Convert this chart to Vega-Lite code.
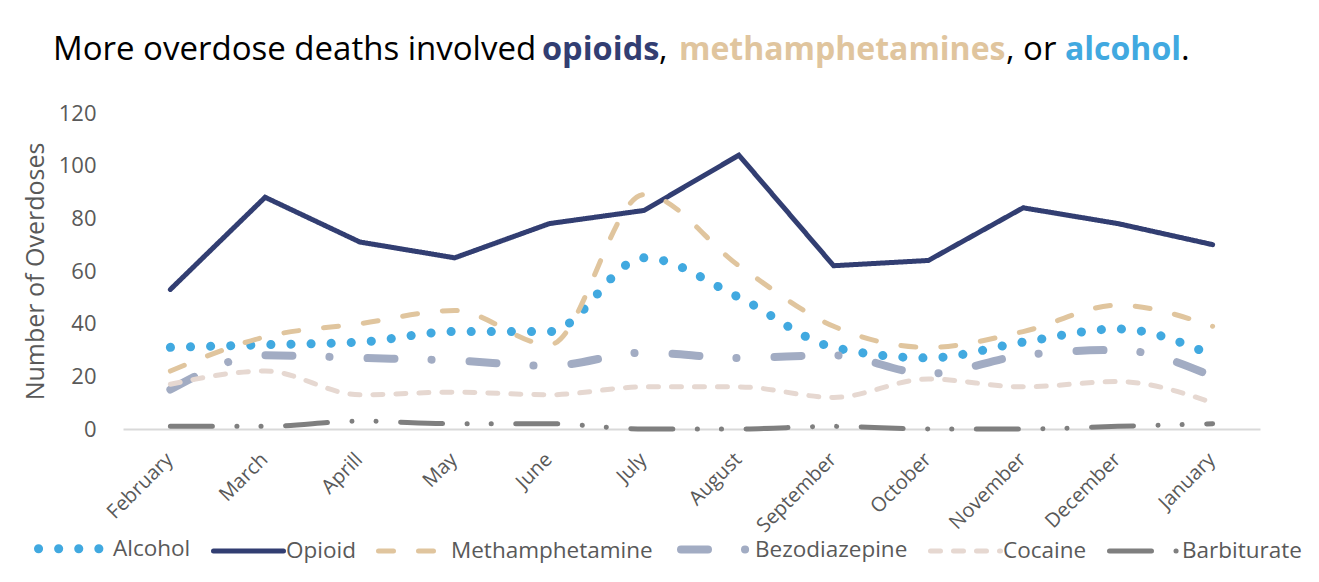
{
  "$schema": "https://vega.github.io/schema/vega-lite/v6.json",
  "width": 1137,
  "height": 316,
  "autosize": {"type": "none"},
  "padding": {"left": 123, "top": 113, "right": 59, "bottom": 153},
  "background": "white",
  "config": {
    "view": {"stroke": null},
    "font": "Open Sans"
  },
  "data": {
    "values": [
      {"month": "February", "drug": "Alcohol", "value": 31},
      {"month": "March", "drug": "Alcohol", "value": 32},
      {"month": "Aprill", "drug": "Alcohol", "value": 33},
      {"month": "May", "drug": "Alcohol", "value": 37},
      {"month": "June", "drug": "Alcohol", "value": 37},
      {"month": "July", "drug": "Alcohol", "value": 65},
      {"month": "August", "drug": "Alcohol", "value": 50},
      {"month": "September", "drug": "Alcohol", "value": 31},
      {"month": "October", "drug": "Alcohol", "value": 27},
      {"month": "November", "drug": "Alcohol", "value": 33},
      {"month": "December", "drug": "Alcohol", "value": 38},
      {"month": "January", "drug": "Alcohol", "value": 28},
      {"month": "February", "drug": "Opioid", "value": 53},
      {"month": "March", "drug": "Opioid", "value": 88},
      {"month": "Aprill", "drug": "Opioid", "value": 71},
      {"month": "May", "drug": "Opioid", "value": 65},
      {"month": "June", "drug": "Opioid", "value": 78},
      {"month": "July", "drug": "Opioid", "value": 83},
      {"month": "August", "drug": "Opioid", "value": 104},
      {"month": "September", "drug": "Opioid", "value": 62},
      {"month": "October", "drug": "Opioid", "value": 64},
      {"month": "November", "drug": "Opioid", "value": 84},
      {"month": "December", "drug": "Opioid", "value": 78},
      {"month": "January", "drug": "Opioid", "value": 70},
      {"month": "February", "drug": "Methamphetamine", "value": 22},
      {"month": "March", "drug": "Methamphetamine", "value": 35},
      {"month": "Aprill", "drug": "Methamphetamine", "value": 40},
      {"month": "May", "drug": "Methamphetamine", "value": 45},
      {"month": "June", "drug": "Methamphetamine", "value": 32},
      {"month": "July", "drug": "Methamphetamine", "value": 89},
      {"month": "August", "drug": "Methamphetamine", "value": 62},
      {"month": "September", "drug": "Methamphetamine", "value": 39},
      {"month": "October", "drug": "Methamphetamine", "value": 31},
      {"month": "November", "drug": "Methamphetamine", "value": 37},
      {"month": "December", "drug": "Methamphetamine", "value": 47},
      {"month": "January", "drug": "Methamphetamine", "value": 39},
      {"month": "February", "drug": "Bezodiazepine", "value": 15},
      {"month": "March", "drug": "Bezodiazepine", "value": 28},
      {"month": "Aprill", "drug": "Bezodiazepine", "value": 27},
      {"month": "May", "drug": "Bezodiazepine", "value": 26},
      {"month": "June", "drug": "Bezodiazepine", "value": 24},
      {"month": "July", "drug": "Bezodiazepine", "value": 29},
      {"month": "August", "drug": "Bezodiazepine", "value": 27},
      {"month": "September", "drug": "Bezodiazepine", "value": 28},
      {"month": "October", "drug": "Bezodiazepine", "value": 21},
      {"month": "November", "drug": "Bezodiazepine", "value": 28},
      {"month": "December", "drug": "Bezodiazepine", "value": 30},
      {"month": "January", "drug": "Bezodiazepine", "value": 20},
      {"month": "February", "drug": "Cocaine", "value": 17},
      {"month": "March", "drug": "Cocaine", "value": 22},
      {"month": "Aprill", "drug": "Cocaine", "value": 13},
      {"month": "May", "drug": "Cocaine", "value": 14},
      {"month": "June", "drug": "Cocaine", "value": 13},
      {"month": "July", "drug": "Cocaine", "value": 16},
      {"month": "August", "drug": "Cocaine", "value": 16},
      {"month": "September", "drug": "Cocaine", "value": 12},
      {"month": "October", "drug": "Cocaine", "value": 19},
      {"month": "November", "drug": "Cocaine", "value": 16},
      {"month": "December", "drug": "Cocaine", "value": 18},
      {"month": "January", "drug": "Cocaine", "value": 10},
      {"month": "February", "drug": "Barbiturate", "value": 1},
      {"month": "March", "drug": "Barbiturate", "value": 1},
      {"month": "Aprill", "drug": "Barbiturate", "value": 3},
      {"month": "May", "drug": "Barbiturate", "value": 2},
      {"month": "June", "drug": "Barbiturate", "value": 2},
      {"month": "July", "drug": "Barbiturate", "value": 0},
      {"month": "August", "drug": "Barbiturate", "value": 0},
      {"month": "September", "drug": "Barbiturate", "value": 1},
      {"month": "October", "drug": "Barbiturate", "value": 0},
      {"month": "November", "drug": "Barbiturate", "value": 0},
      {"month": "December", "drug": "Barbiturate", "value": 1},
      {"month": "January", "drug": "Barbiturate", "value": 2}
    ]
  },
  "layer": [
    {
      "encoding": {
        "x": {
          "field": "month", "type": "ordinal",
          "sort": ["February","March","Aprill","May","June","July","August","September","October","November","December","January"],
          "scale": {"type": "point", "padding": 0.5},
          "axis": {
            "title": null, "labelAngle": -45, "labelFontSize": 20, "labelColor": "#595959",
            "labelFont": "Open Sans", "ticks": false, "domainColor": "#D9D9D9", "domainWidth": 2,
            "labelPadding": 20, "labelOffset": -8, "grid": false
          }
        },
        "y": {
          "field": "value", "type": "quantitative",
          "scale": {"domain": [0, 120], "nice": false},
          "axis": {
            "values": [0, 20, 40, 60, 80, 100, 120], "grid": false, "domain": false, "ticks": false,
            "labelFontSize": 22, "labelColor": "#595959", "labelFont": "Open Sans", "labelPadding": 27,
            "title": "Number of Overdoses", "titleFontSize": 25, "titleFontWeight": "normal",
            "titleColor": "#595959", "titleFont": "Open Sans", "titlePadding": 10
          }
        },
        "color": {
          "field": "drug", "type": "nominal",
          "scale": {
            "domain": ["Alcohol", "Opioid", "Methamphetamine", "Bezodiazepine", "Cocaine", "Barbiturate"],
            "range": ["#41A9E0", "#323E72", "#E0C59E", "#A2ACC3", "#E6D8D1", "#7F7F7F"]
          },
          "legend": {
            "title": null, "orient": "none", "direction": "horizontal", "legendX": -89, "legendY": 396,
            "symbolType": "stroke", "symbolSize": 4900, "labelFontSize": 22.5, "labelColor": "#595959",
            "labelFont": "Open Sans", "labelOffset": 0, "columnPadding": 12, "labelLimit": 0,
            "symbolOpacity": 1, "symbolStrokeWidth": 5,
            "encode": {"symbols": {"update": {
              "strokeCap": {"value": "round"},
              "strokeWidth": {"signal": "datum.value === 'Alcohol' ? 9 : datum.value === 'Bezodiazepine' ? 8 : 5"}
            }}}
          }
        },
        "strokeDash": {
          "field": "drug", "type": "nominal",
          "scale": {
            "domain": ["Alcohol", "Opioid", "Methamphetamine", "Bezodiazepine", "Cocaine", "Barbiturate"],
            "range": [[0.1, 20], [1, 0], [15, 25], [27, 37, 0.1, 38], [10, 13], [42, 24.5, 0.1, 24, 0.1, 24.5]]
          },
          "legend": {
            "title": null, "orient": "none", "direction": "horizontal", "legendX": -89, "legendY": 396,
            "symbolType": "stroke", "symbolSize": 4900, "labelFontSize": 22.5, "labelColor": "#595959",
            "labelFont": "Open Sans", "labelOffset": 0, "columnPadding": 12, "labelLimit": 0,
            "symbolOpacity": 1, "symbolStrokeWidth": 5,
            "encode": {"symbols": {"update": {
              "strokeCap": {"value": "round"},
              "strokeWidth": {"signal": "datum.value === 'Alcohol' ? 9 : datum.value === 'Bezodiazepine' ? 8 : 5"}
            }}}
          }
        },
        "strokeWidth": {
          "field": "drug", "type": "nominal",
          "scale": {
            "type": "ordinal",
            "domain": ["Alcohol", "Opioid", "Methamphetamine", "Bezodiazepine", "Cocaine", "Barbiturate"],
            "range": [9, 5, 5, 8, 5, 5]
          },
          "legend": null
        }
      },
      "layer": [
        {
          "transform": [{"filter": "datum.drug === 'Opioid'"}],
          "mark": {"type": "line", "interpolate": "linear", "strokeCap": "round", "strokeJoin": "miter"}
        },
        {
          "transform": [{"filter": "datum.drug !== 'Opioid'"}],
          "mark": {"type": "line", "interpolate": "monotone", "strokeCap": "round"}
        }
      ]
    },
    {
      "data": {"values": [{}]},
      "mark": {"type": "text", "text": "More overdose deaths involved", "x": -70, "y": -53, "align": "left", "baseline": "alphabetic", "font": "Open Sans", "fontSize": 33, "color": "#000000"}
    },
    {
      "data": {"values": [{}]},
      "mark": {"type": "text", "text": "opioids", "x": 419, "y": -53, "align": "left", "baseline": "alphabetic", "font": "Open Sans", "fontSize": 32.5, "fontWeight": "bold", "color": "#323E72"}
    },
    {
      "data": {"values": [{}]},
      "mark": {"type": "text", "text": ",", "x": 536, "y": -53, "align": "left", "baseline": "alphabetic", "font": "Open Sans", "fontSize": 33, "color": "#000000"}
    },
    {
      "data": {"values": [{}]},
      "mark": {"type": "text", "text": "methamphetamines", "x": 556, "y": -53, "align": "left", "baseline": "alphabetic", "font": "Open Sans", "fontSize": 32, "fontWeight": "bold", "color": "#E0C59E"}
    },
    {
      "data": {"values": [{}]},
      "mark": {"type": "text", "text": ", or", "x": 883, "y": -53, "align": "left", "baseline": "alphabetic", "font": "Open Sans", "fontSize": 33, "color": "#000000"}
    },
    {
      "data": {"values": [{}]},
      "mark": {"type": "text", "text": "alcohol", "x": 942, "y": -53, "align": "left", "baseline": "alphabetic", "font": "Open Sans", "fontSize": 32, "fontWeight": "bold", "color": "#41A9E0"}
    },
    {
      "data": {"values": [{}]},
      "mark": {"type": "text", "text": ".", "x": 1058, "y": -53, "align": "left", "baseline": "alphabetic", "font": "Open Sans", "fontSize": 33, "color": "#000000"}
    }
  ]
}
